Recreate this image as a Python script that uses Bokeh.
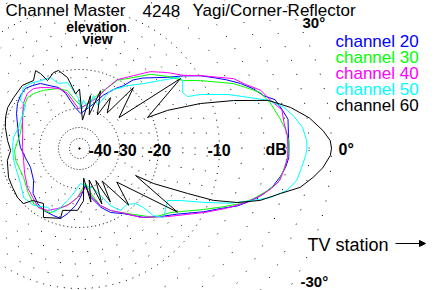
import numpy as np
from bokeh.plotting import figure
from bokeh.models import Range1d, Label, Arrow, NormalHead
from bokeh.embed import file_html
from bokeh.resources import INLINE

# ---- polar scale (dB -> radius in px) ----
SCALE_DB = [-50, -40, -30, -20, -10, 0]
SCALE_R = [10, 21, 40, 79, 140, 252]
CX, CY = 79, 148

# ---- grid ----
major_rings = [-50, -40, -30, -20, -10]
minor_rings = [-28, -26, -24, -22, -18, -16, -14, -12, -8, -6, -4, -2, 0]

# ---- data: elevation patterns (angle deg, relative dB) ----
ch20_deg = [0, 4, 8, 11, 14, 16, 19, 22, 25, 28, 31, 35, 39, 48, 52, 55, 59, 66, 71, 88,
            96, 101, 104, 109, 115, 121, 127, 132, 138, 144, 151, 161, 170, 179, 190, 201, 215, 224, 233, 240,
            249, 255, 260, 266, 271, 279, 283, 290, 296, 304, 313, 320, 326, 333, 337, 340, 343, 346, 349, 352,
            355, 357.5, 360]
ch20_db = [-3.8, -3.8, -3.7, -4.1, -4.5, -5.4, -6.1, -7.0, -8.0, -9.0, -9.9, -12.2, -14.4, -17.4, -18.7, -20.6, -22.3, -25.3, -27.8, -32.6,
           -29.7, -27.7, -25.7, -23.7, -22.5, -20.8, -20.1, -19.7, -19.95, -20.6, -21.8, -23.5, -24.4, -25.1, -26.2, -26.8, -25.9, -23.7, -22.5, -21.9,
           -21.8, -21.7, -23.4, -25.6, -27.7, -31.3, -27.4, -24.2, -22.0, -20.1, -17.5, -15.6, -13.7, -10.1, -8.8, -7.5, -6.5, -5.6, -4.9, -4.4,
           -4.0, -3.8, -3.8]

ch30_deg = [0, 2, 5, 8.5, 13.5, 17.2, 20.2, 22.9, 29.3, 33.2, 39.3, 46.2, 52.7, 60.8, 67.5, 74.4, 85.8, 94.8, 101.7, 110,
            121.8, 129.9, 135.6, 143.8, 153.8, 165.7, 181.8, 190.6, 200.4, 207.4, 221.4, 230.1, 239.9, 245.6, 252.4, 260.7, 267.7, 279.7, 285.5, 290.2,
            296.6, 302.6, 317, 324.9, 333.8, 337.3, 341.1, 344, 347.4, 350.3, 353.8, 357.5, 360]
ch30_db = [-3.8, -3.8, -4.0, -4.4, -5.0, -5.6, -6.7, -7.6, -10.2, -12.6, -14.3, -16.1, -18.3, -20.2, -24.2, -26.9, -29.7, -27.9, -25.1, -23.9,
           -22.7, -21.9, -21.6, -22.5, -24.0, -24.6, -23.6, -23.6, -24.1, -24.1, -22.8, -21.9, -21.9, -22.2, -24.2, -26.0, -27.7, -32.4, -27.7, -24.7,
           -22.5, -20.8, -16.4, -14.7, -10.3, -8.9, -7.3, -6.3, -5.3, -4.5, -4.2, -3.9, -3.8]

ch40_deg = [0, 3.6, 7.2, 10.8, 14.1, 17.8, 21.1, 24.4, 31.1, 35.1, 40.8, 47.3, 53.5, 61.2, 65.3, 70.6, 82, 91.4, 102.3, 107.6,
            115.4, 122.6, 127.5, 133.4, 141.2, 151.5, 165.3, 179, 192.1, 204.4, 216.9, 226.2, 235.2, 242.7, 250.1, 258.1, 267.7, 278.7, 284.9, 290.2,
            296.6, 305.3, 311.5, 322.3, 333.1, 337.7, 342, 345, 348.2, 350.9, 354.4, 357.5, 360]
ch40_db = [-3.9, -3.9, -4.1, -4.1, -4.9, -5.5, -6.6, -7.4, -9.9, -12.1, -13.9, -15.8, -18.1, -20.1, -23.1, -26.4, -29.1, -30.0, -25.8, -24.2,
           -23.0, -21.7, -20.9, -20.8, -21.8, -23.6, -25.2, -25.6, -25.6, -24.8, -23.6, -22.9, -21.8, -22.4, -23.9, -25.3, -27.7, -30.3, -27.2, -24.7,
           -22.5, -19.9, -17.9, -14.7, -9.9, -8.4, -6.9, -5.9, -5.0, -4.4, -4.1, -3.9, -3.9]

ch50_deg = [0, 2, 5.4, 8.8, 11.4, 14.3, 16.6, 20, 24, 25.7, 28.5, 33.4, 35.6, 40, 45.4, 52.7, 61.9, 67.3, 75.2, 77.3,
            85.2, 88.6, 91.1, 95.9, 100.3, 107.9, 112.2, 119.8, 127, 132.6, 140.9, 141.5, 161, 170.5, 179, 190.3, 202, 210.7, 221.2, 231.1,
            241.5, 247.9, 252.2, 257, 262.4, 271.6, 289.3, 294.1, 298.5, 303.5, 310.6, 315.5, 317.3, 317.8, 320.6, 329.4, 332.8, 336.5, 340, 343.4,
            345.6, 348.6, 351.6, 355.1, 358.2, 360]
ch50_db = [-2.2, -2.2, -2.5, -3.2, -3.9, -5.1, -6.6, -8.4, -11.2, -13.3, -13.7, -12.7, -12.9, -15.6, -18.0, -20.0, -23.4, -28.2, -26.2, -29.7,
           -27.9, -30.0, -27.4, -25.4, -23.1, -22.7, -20.6, -20.2, -19.6, -19.4, -20.7, -22.6, -23.7, -23.1, -23.1, -23.1, -23.1, -22.7, -21.2, -21.5,
           -23.1, -22.6, -24.4, -26.6, -28.6, -32.6, -29.4, -27.0, -23.6, -21.2, -21.4, -20.1, -18.7, -16.6, -15.1, -16.2, -14.3, -10.8, -8.2, -6.3,
           -4.9, -3.6, -2.9, -2.6, -2.3, -2.2]

ch60_deg = [0, 1.8, 4.2, 7.6, 11, 14.3, 17.3, 20.4, 23.4, 24.5, 34.7, 38, 48.5, 52, 58.7, 62, 70, 74, 78.3, 84,
            90, 94.2, 96.5, 99.6, 105.1, 108.9, 115.2, 117.5, 119.4, 124.1, 132.1, 142.3, 150.3, 157.3, 164.2, 173.7, 181.7, 189.5, 202.2, 210.2,
            218.3, 224.5, 227.9, 236.8, 242.4, 254.8, 254.7, 268.2, 274.4, 278, 282, 287, 292, 297, 300, 305, 311, 318, 327, 334.3,
            334.7, 337.4, 338.8, 341.1, 344, 347.4, 350, 352.9, 355.5, 358.4, 360]
ch60_db = [0.2, -0.1, -0.7, -1.8, -3.3, -5.1, -8.1, -11.8, -17.2, -21.1, -12.8, -27.4, -19.6, -28.7, -25.0, -31.0, -24.5, -32.6, -26.4, -36,
           -25, -26.2, -24.6, -21.8, -19.7, -19.8, -21.0, -19.1, -18.3, -19.5, -19.0, -19.3, -19.4, -19.8, -20.5, -21.7, -22.6, -21.5, -20.6, -20.4,
           -20.0, -20.1, -22.3, -23.4, -20.3, -21.7, -23.8, -24.4, -26.8, -35.3, -26.2, -33.7, -24.9, -32.1, -24.4, -30.0, -21.0, -27.4, -13.8, -24.3,
           -19.5, -13.8, -9.7, -7.6, -5.7, -4.1, -2.5, -1.5, -0.7, -0.1, 0.2]

channels = ["channel 20", "channel 30", "channel 40", "channel 50", "channel 60"]
colors = ["#0000ff", "#00ff00", "#ff00ff", "#00ffff", "#000000"]
series = [(ch20_deg, ch20_db), (ch30_deg, ch30_db), (ch40_deg, ch40_db),
          (ch50_deg, ch50_db), (ch60_deg, ch60_db)]


def to_xy(deg, db):
    r = np.interp(np.asarray(db, float), SCALE_DB, SCALE_R)
    t = np.radians(np.asarray(deg, float))
    return CX + r * np.cos(t), CY - r * np.sin(t)


p = figure(width=436, height=290, x_range=Range1d(0, 436), y_range=Range1d(290, 0),
           toolbar_location=None, output_backend="svg", min_border=0)
p.axis.visible = False
p.grid.visible = False
p.outline_line_color = None
p.background_fill_color = "white"

full = np.linspace(0, 360, 361)
for lvl in major_rings:
    x, y = to_xy(full, np.full_like(full, lvl))
    dash = "1 2" if lvl <= -40 else ("1 3" if lvl >= -30 and lvl <= -20 else "1 6")
    p.line(x, y, line_color="black", line_width=1, line_dash=dash)
for lvl in minor_rings:
    x, y = to_xy(full, np.full_like(full, lvl))
    p.line(x, y, line_color="black", line_width=1, line_dash="1 14")
p.scatter([CX], [CY], size=1.5, color="black")

for (deg, db), c in zip(series, colors):
    x, y = to_xy(deg, db)
    p.line(x, y, line_color=c, line_width=1)

FONT = "Liberation Sans"
DY = -6  # baseline correction


def lab(x, y, t, size, color="black", bold=False, align="left"):
    p.add_layout(Label(x=x, y=y + DY, text=t, text_font=FONT, text_font_size=size,
                       text_color=color, text_font_style="bold" if bold else "normal",
                       text_align=align, text_baseline="alphabetic"))


lab(5, 16, "Channel Master", "17px")
lab(142, 16, "4248", "17px")
lab(192, 16, "Yagi/Corner-Reflector", "17px")
lab(302, 28, "30°", "15px", bold=True)
lab(96, 32, "elevation", "14px", bold=True, align="center")
lab(97, 44, "view", "14px", bold=True, align="center")
for name, c, yb in zip(channels, colors, [47, 63, 79, 95, 111]):
    lab(335, yb, name, "17px", color=c)

lab(88, 155, "-40", "16px", bold=True)
lab(113, 155, "-30", "16px", bold=True)
lab(147, 155, "-20", "16px", bold=True)
lab(207, 155, "-10", "16px", bold=True)
lab(265, 155, "dB", "16px", bold=True)
lab(338, 155, "0°", "16px", bold=True)
lab(307, 250, "TV station", "18px")
lab(300, 287, "-30°", "15px", bold=True)
p.add_layout(Arrow(x_start=395, y_start=243, x_end=425, y_end=243, line_width=1,
                   end=NormalHead(size=6, fill_color="black", line_color="black")))

open("out.html", "w").write(file_html(p, INLINE))
